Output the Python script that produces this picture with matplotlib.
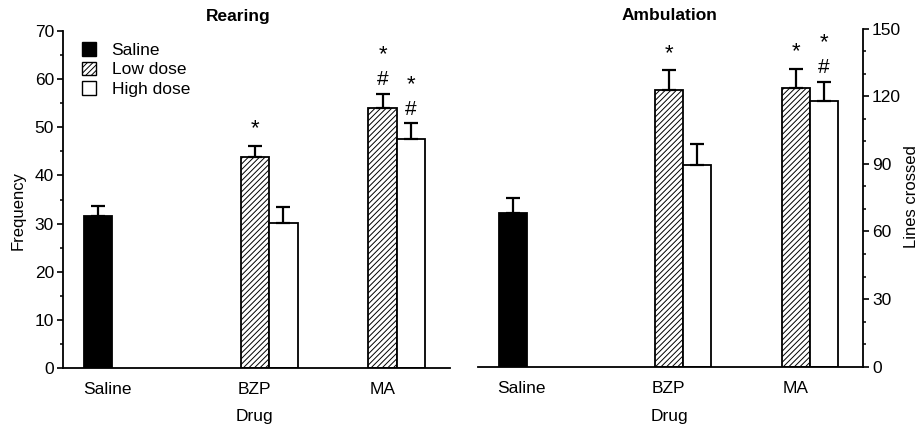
import matplotlib
matplotlib.use("Agg")
import matplotlib.pyplot as plt
from matplotlib.patches import Patch
from matplotlib.ticker import MultipleLocator

plt.rcParams['font.family'] = ['Liberation Sans', 'DejaVu Sans']
plt.rcParams['hatch.linewidth'] = 0.7

# ---- data ----
drugs = ["Saline", "BZP", "MA"]
series = ["Saline", "Low dose", "High dose"]
rear_mean = [31.6, 43.8, 30.2, 54.0, 47.5]
rear_err = [2.1, 2.4, 3.3, 3.0, 3.3]
amb_mean = [68.0, 122.6, 89.7, 123.8, 117.9]
amb_err = [6.9, 8.9, 9.0, 8.5, 8.4]
rear_marks = ["", "*", "", "*#", "*#"]
amb_marks = ["", "*", "", "*", "*#"]

# ---- layout ----
bar_pos = [1.23, 6.74, 7.74, 11.23, 12.23]
bar_kind = [0, 1, 2, 1, 2]
W = 1.0
FS = 12.5
STAR_FS = 16
HASH_FS = 15
OFF_STAR_SINGLE = 12.0   # points above error cap
OFF_HASH = 10.3
OFF_STAR_STACK = 28.0

fig = plt.figure(figsize=(9.19, 4.29), dpi=100)
axL = fig.add_axes([0.0686, 0.1422, 0.4211, 0.7855])
axR = fig.add_axes([0.5201, 0.1452, 0.4189, 0.7880])

styles = [dict(color="black", edgecolor="black"),
          dict(color="white", edgecolor="black", hatch="//////"),
          dict(color="white", edgecolor="black")]


def mark(ax, x, y, s, off, fs):
    ax.annotate(s, (x, y), xytext=(0, off), textcoords='offset points',
                ha='center', va='center', fontsize=fs)


def draw(ax, means, errs, marks, ymax, major, minor, side, sal_label_x):
    for x, m, e, k, mk in zip(bar_pos, means, errs, bar_kind, marks):
        ax.bar(x, m, width=W, linewidth=1.3, zorder=2, **styles[k])
        ax.errorbar(x, m, yerr=[[0], [e]], fmt='none', ecolor='black',
                    elinewidth=1.6, capsize=5, capthick=1.6, zorder=3)
        top = m + e
        if mk == "*":
            mark(ax, x, top, "*", OFF_STAR_SINGLE, STAR_FS)
        elif mk == "*#":
            mark(ax, x, top, "#", OFF_HASH, HASH_FS)
            mark(ax, x, top, "*", OFF_STAR_STACK, STAR_FS)
    ax.set_xlim(0, 13.6)
    ax.set_ylim(0, ymax)
    ax.yaxis.set_major_locator(MultipleLocator(major))
    ax.yaxis.set_minor_locator(MultipleLocator(minor))
    ax.set_xticks([sal_label_x, bar_pos[1], bar_pos[3]])
    ax.set_xticklabels(drugs)
    ax.tick_params(axis='x', length=0, pad=10, labelsize=FS)
    ax.tick_params(axis='y', which='major', length=4, width=1.2, labelsize=FS,
                   direction='out', pad=2.5)
    ax.tick_params(axis='y', which='minor', length=2.5, width=1.1, direction='out')
    ax.spines['top'].set_visible(False)
    for s in ax.spines.values():
        s.set_linewidth(1.3)
    if side == 'left':
        ax.spines['right'].set_visible(False)
    else:
        ax.spines['left'].set_visible(False)
        ax.yaxis.tick_right()


draw(axL, rear_mean, rear_err, rear_marks, 70, 10, 5, 'left', 1.55)
draw(axR, amb_mean, amb_err, amb_marks, 150, 30, 10, 'right', 1.52)

fig.text(18 / 919, 1 - 210 / 429, "Frequency", rotation=90, ha='center', va='center', fontsize=12)
fig.text(911 / 919, 1 - 197 / 429, "Lines crossed", rotation=90, ha='center', va='center', fontsize=12)
fig.text(254 / 919, 1 - 416 / 429, "Drug", ha='center', va='center', fontsize=FS)
fig.text(669 / 919, 1 - 416 / 429, "Drug", ha='center', va='center', fontsize=FS)

fig.text(238 / 919, 1 - 16 / 429, "Rearing", ha='center', va='center', fontsize=12.5, fontweight='bold')
fig.text(669 / 919, 1 - 16 / 429, "Ambulation", ha='center', va='center', fontsize=12.5, fontweight='bold')

handles = [Patch(facecolor='black', edgecolor='black'),
           Patch(facecolor='white', edgecolor='black', hatch='//////'),
           Patch(facecolor='white', edgecolor='black')]
axL.legend(handles, series, loc='upper left', bbox_to_anchor=(0.02, 1.0), frameon=False,
           fontsize=FS, handlelength=0.8, handleheight=0.8, handletextpad=0.9,
           labelspacing=0.22, borderaxespad=0.25)

fig.savefig("out.png", dpi=100)
